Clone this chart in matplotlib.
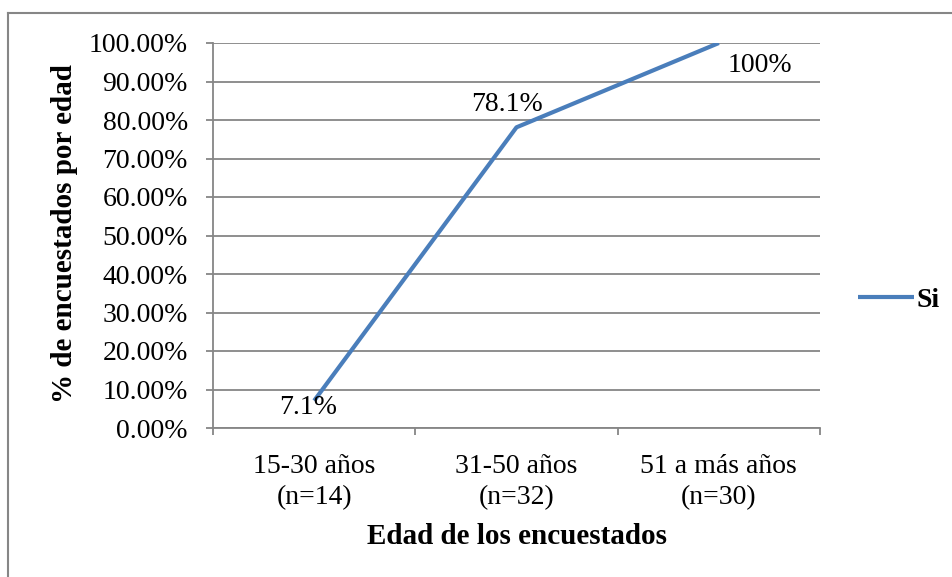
import matplotlib
matplotlib.use("Agg")
import matplotlib.pyplot as plt
from matplotlib.lines import Line2D

plt.rcParams['font.family'] = ['Liberation Serif', 'DejaVu Serif']

categories = ["15-30 años\n(n=14)", "31-50 años\n(n=32)", "51 a más años\n(n=30)"]
si_values = [0.071, 0.781, 1.00]
value_labels = ["7.1%", "78.1%", "100%"]
y_ticks = [i / 10 for i in range(11)]
y_tick_labels = [f"{t * 100:.2f}%" for t in y_ticks]
series_name = "Si"

W, H = 953, 577
fig = plt.figure(figsize=(W / 100, H / 100), dpi=100)
ax = fig.add_axes([213 / W, 1 - 428 / H, (820 - 213) / W, (428 - 43) / H])

grid_color = "#868686"
line_color = "#4A7EBB"
fs = 20
fs_title = 21

x = list(range(len(categories)))
ax.plot(x, si_values, color=line_color, lw=3.0, solid_capstyle="butt", label=series_name, zorder=3)

ax.set_xlim(-0.5, len(categories) - 0.5)
ax.set_ylim(0, 1)
ax.set_yticks(y_ticks)
ax.set_yticklabels(y_tick_labels, fontsize=fs)
ax.yaxis.grid(True, color=grid_color, lw=1.3)
ax.set_axisbelow(True)

# category labels centered, tick marks between categories
ax.set_xticks([i - 0.5 for i in range(len(categories) + 1)])
ax.set_xticklabels([])
ax.set_xticks(x, minor=True)
ax.set_xticklabels(categories, minor=True, fontsize=fs, linespacing=1.32)
ax.tick_params(axis="x", which="minor", length=0, pad=19)
ax.tick_params(axis="x", which="major", length=5, color=grid_color, width=1.3)
ax.tick_params(axis="y", length=5, color=grid_color, width=1.3, pad=13)

for side in ["top", "right"]:
    ax.spines[side].set_visible(False)
for side in ["left", "bottom"]:
    ax.spines[side].set_color(grid_color)
    ax.spines[side].set_linewidth(1.3)

offsets = [(-4, -5), (-6.5, 16.5), (29.5, -16)]
for xi, v, lab, off in zip(x, si_values, value_labels, offsets):
    ax.annotate(lab, (xi, v), xytext=off, textcoords="offset points",
                ha="center", va="center", fontsize=fs, zorder=4)

fig.text(65 / W, 1 - 234 / H, "% de encuestados por edad", fontsize=fs_title,
         fontweight="bold", rotation=90, ha="center", va="center")
fig.text(517 / W, 1 - 537 / H, "Edad de los encuestados", fontsize=fs_title,
         fontweight="bold", ha="center", va="center")

fig.legend(loc="center left", bbox_to_anchor=(858 / W, 1 - 300 / H),
           frameon=False, borderpad=0, borderaxespad=0, handlelength=2.0,
           handletextpad=0.1, prop={"size": fs, "weight": "bold"})

# outer chart border (top and left edges)
fig.add_artist(Line2D([8 / W, 8 / W], [0, 1 - 13 / H], transform=fig.transFigure,
                      color=grid_color, lw=1.5))
fig.add_artist(Line2D([8 / W, 1], [1 - 13 / H, 1 - 13 / H], transform=fig.transFigure,
                      color=grid_color, lw=1.5))

fig.savefig("out.png", dpi=100)
